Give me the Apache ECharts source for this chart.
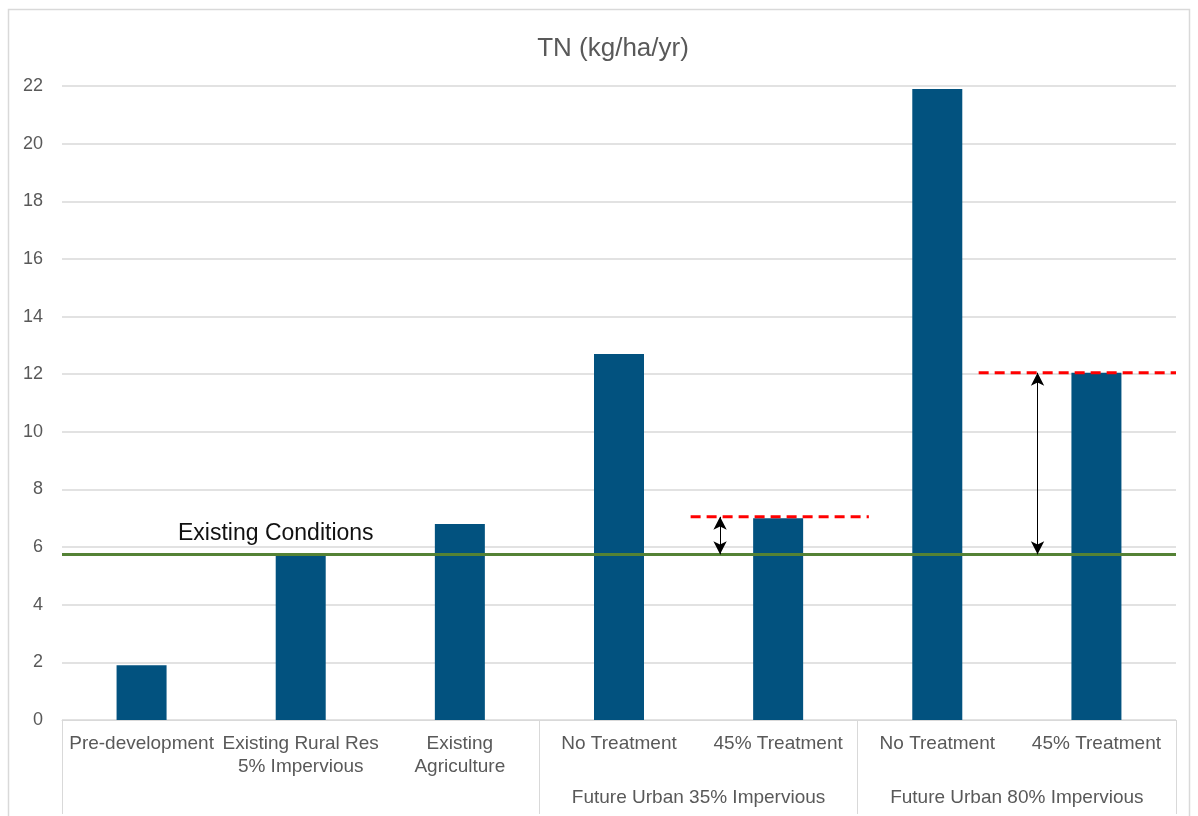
<!DOCTYPE html>
<html>
<head>
<meta charset="utf-8">
<title>TN (kg/ha/yr)</title>
<script src="https://cdn.jsdelivr.net/npm/echarts@6/dist/echarts.min.js"></script>
<style>
  html, body { margin: 0; padding: 0; background: #ffffff; }
  #chart { width: 1198px; height: 816px; }
</style>
</head>
<body>
<div id="chart"></div>
<script>
// Land-use scenarios (first-level labels) and their total nitrogen loads
const categories = [
  'Pre-development',
  'Existing Rural Res\n5% Impervious',
  'Existing\nAgriculture',
  'No Treatment',
  '45% Treatment',
  'No Treatment',
  '45% Treatment'
];
const tnLoad = [1.9, 5.75, 6.8, 12.7, 7.0, 21.9, 12.05];

// Second-level groups: label, centre position and boundaries on a 0..7 band scale
const groupNames = ['Future Urban 35% Impervious', 'Future Urban 80% Impervious'];
const groupCentres = [4, 6];
const groupBoundaries = [0, 3, 5, 7];

// Reference level for existing conditions
const existingLevel = 5.75;
const existingLabel = 'Existing Conditions';

// Target levels after treatment (dashed red) and the span each covers on the band scale
const target35 = [[3.95, 7.05], [5.07, 7.05]];
const target80 = [[5.76, 12.05], [7.0, 12.05]];

// Increase over existing conditions (double-headed arrows)
const arrow35 = [[4.135, existingLevel], [4.135, 7.05]];
const arrow80 = [[6.13, existingLevel], [6.13, 12.05]];

// Y axis ticks
const yMin = 0, yMax = 22, yStep = 2;

const font = '"Liberation Sans", Arial, sans-serif';
const grey = '#595959';
const gridGrey = '#d9d9d9';

const chart = echarts.init(document.getElementById('chart'));

function arrowLine(pts) {
  return [{ coord: pts[0] }, { coord: pts[1] }];
}

chart.setOption({
  animation: false,
  backgroundColor: '#ffffff',
  title: {
    text: 'TN (kg/ha/yr)',
    left: 608,
    top: 31,
    textAlign: 'center',
    textStyle: { fontFamily: font, fontSize: 26, fontWeight: 'normal', color: grey }
  },
  graphic: [{
    type: 'rect',
    shape: { x: 8.5, y: 9.5, width: 1181, height: 820 },
    style: { fill: 'none', stroke: gridGrey, lineWidth: 1.5 },
    silent: true,
    z: -10
  }],
  grid: { left: 62, right: 22, top: 86, bottom: 96, containLabel: false },
  xAxis: [
    {
      type: 'category',
      data: categories,
      axisLine: { show: true, lineStyle: { color: gridGrey, width: 1 } },
      axisTick: { show: false },
      axisLabel: {
        interval: 0,
        margin: 12,
        color: grey,
        fontFamily: font,
        fontSize: 19,
        lineHeight: 23
      },
      splitLine: { show: false }
    },
    {
      type: 'value',
      min: 0,
      max: 7,
      position: 'bottom',
      axisLine: { show: false },
      splitLine: { show: false },
      axisTick: {
        show: true,
        customValues: groupBoundaries,
        length: 94,
        lineStyle: { color: gridGrey, width: 1 }
      },
      axisLabel: {
        show: true,
        customValues: groupCentres,
        margin: 68,
        color: grey,
        fontFamily: font,
        fontSize: 19,
        formatter: function (v) {
          const i = groupCentres.indexOf(v);
          return i >= 0 ? groupNames[i] : '';
        }
      }
    }
  ],
  yAxis: {
    type: 'value',
    min: yMin,
    max: yMax,
    interval: yStep,
    axisLine: { show: false },
    axisTick: { show: false },
    axisLabel: { margin: 19, color: grey, fontFamily: font, fontSize: 18 },
    splitLine: { lineStyle: { color: gridGrey, width: 1.5 } }
  },
  series: [
    {
      type: 'bar',
      xAxisIndex: 0,
      data: tnLoad,
      barWidth: 50,
      itemStyle: { color: '#02527f' },
      markLine: {
        silent: true,
        symbol: ['none', 'none'],
        lineStyle: { color: '#548235', width: 3, type: 'solid' },
        label: {
          show: true,
          position: 'insideStartTop',
          distance: [116, 9],
          formatter: existingLabel,
          color: '#111111',
          fontFamily: font,
          fontSize: 23
        },
        data: [{ yAxis: existingLevel }],
        z: 5
      }
    },
    {
      type: 'line',
      xAxisIndex: 1,
      data: target35,
      symbol: 'none',
      lineStyle: { color: '#ff0000', width: 3, type: [10, 6] },
      z: 6,
      markLine: {
        silent: true,
        symbol: ['arrow', 'arrow'],
        symbolSize: [10, 13],
        lineStyle: { color: '#000000', width: 1, type: 'solid' },
        label: { show: false },
        data: [arrowLine(arrow35), arrowLine(arrow80)]
      }
    },
    {
      type: 'line',
      xAxisIndex: 1,
      data: target80,
      symbol: 'none',
      lineStyle: { color: '#ff0000', width: 3, type: [10, 6] },
      z: 6
    }
  ]
});
</script>
</body>
</html>
